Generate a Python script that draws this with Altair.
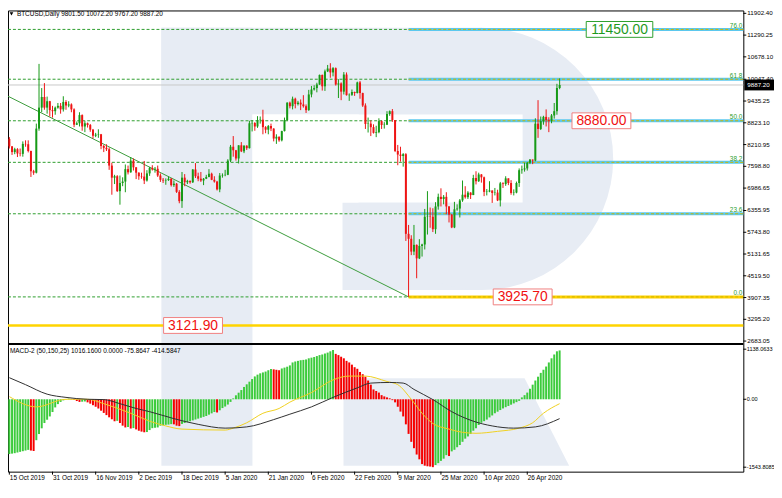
import numpy as np
import pandas as pd
import altair as alt

# ---------------- data ----------------
opens = [
    8370, 8160, 8000, 8080, 7960, 7950, 8230, 8220, 8030, 7460,
    7420, 8660, 9250, 9550, 9250, 9430, 9180, 9150, 9250, 9300,
    9200, 9410, 9310, 9340, 9200, 8770, 8810, 9040, 8720, 8810,
    8760, 8630, 8460, 8490, 8500, 8170, 8120, 8080, 7620, 7280,
    7320, 6900, 7130, 7170, 7520, 7430, 7760, 7570, 7420, 7320,
    7310, 7200, 7400, 7550, 7510, 7530, 7340, 7220, 7200, 7210,
    7250, 7070, 7110, 6880, 6620, 7280, 7150, 7190, 7150, 7510,
    7320, 7250, 7200, 7250, 7300, 7390, 7220, 7170, 6950, 7340,
    7350, 7360, 7760, 8150, 8050, 7820, 8190, 8020, 8180, 8110,
    8810, 8820, 8720, 8900, 8910, 8700, 8630, 8730, 8660, 8380,
    8430, 8330, 8590, 8900, 9390, 9290, 9500, 9350, 9390, 9340,
    9290, 9180, 9620, 9760, 9800, 9900, 10170, 9850, 10270, 10350,
    10240, 10360, 9900, 9930, 9700, 10180, 9600, 9610, 9690, 9660,
    9960, 9660, 9310, 8790, 8800, 8700, 8540, 8560, 8870, 8760,
    8770, 9070, 9150, 8900, 8030, 7930, 7890, 7940, 5700, 5560,
    5200, 5390, 5010, 5360, 5400, 6180, 6190, 6180, 5830, 6470,
    6740, 6680, 6740, 6470, 6240, 5880, 6390, 6410, 6640, 6800,
    6730, 6860, 6790, 7270, 7180, 7370, 7290, 6880, 6890, 6920,
    6850, 6860, 6640, 7120, 7100, 7260, 7130, 6850, 6860, 7130,
    7490, 7510, 7540, 7700, 7790, 7760, 8800, 8650, 8870, 8990,
    8900, 8880, 9030, 9150, 9801.5,
]
highs = [
    8420, 8170, 8120, 8110, 8100, 8300, 8330, 8330, 8040, 7500,
    8800, 10480, 9800, 9940, 9560, 9440, 9300, 9280, 9380, 9380,
    9570, 9460, 9430, 9370, 9230, 8860, 9120, 9060, 8870, 8830,
    8790, 8650, 8540, 8640, 8510, 8200, 8220, 8130, 7700, 7360,
    7350, 7340, 7290, 7650, 7620, 7860, 7820, 7580, 7430, 7420,
    7750, 7490, 7580, 7630, 7580, 7620, 7400, 7270, 7260, 7310,
    7270, 7200, 7130, 6930, 7440, 7380, 7220, 7200, 7520, 7690,
    7420, 7440, 7270, 7360, 7520, 7420, 7320, 7190, 7410, 7400,
    7500, 7800, 8200, 8450, 8060, 8190, 8280, 8190, 8190, 8880,
    8900, 8840, 9010, 9000, 9190, 8730, 8760, 8800, 8670, 8500,
    8440, 8600, 8970, 9400, 9420, 9560, 9530, 9440, 9480, 9600,
    9340, 9750, 9860, 9880, 9950, 10180, 10180, 10320, 10450, 10500,
    10390, 10380, 10050, 9960, 10250, 10240, 9650, 9760, 9700, 9980,
    10000, 9670, 9370, 8970, 8890, 8780, 8740, 8950, 8890, 8840,
    9150, 9170, 9210, 8900, 8200, 8150, 7970, 7970, 5950, 5660,
    5950, 5400, 5550, 5420, 6400, 6900, 6440, 6420, 6590, 6830,
    6980, 6790, 6870, 6480, 6260, 6600, 6530, 6680, 7200, 7040,
    6900, 6870, 7360, 7460, 7420, 7380, 7310, 6960, 7180, 6920,
    6990, 6940, 7160, 7150, 7320, 7260, 7210, 6950, 7170, 7540,
    7620, 7700, 7720, 7800, 7790, 8950, 9460, 9000, 9020, 9200,
    8980, 9070, 9380, 9920, 10072.2,
]
lows = [
    8100, 7920, 7940, 7860, 7880, 7870, 8150, 7990, 7300, 7360,
    7400, 8600, 9120, 9190, 9080, 9000, 8970, 9050, 9220, 9080,
    9140, 9190, 9260, 9120, 8700, 8760, 8720, 8600, 8560, 8690,
    8570, 8380, 8420, 8400, 8080, 8000, 8030, 7500, 6800, 7100,
    6880, 6520, 7040, 6870, 7370, 7420, 7480, 7240, 7220, 7250,
    7100, 7170, 7330, 7480, 7420, 7300, 7160, 7130, 7080, 7190,
    7030, 7020, 6850, 6560, 6430, 7040, 7100, 7110, 7130, 7270,
    7180, 7160, 7070, 7240, 7290, 7210, 7140, 6920, 6870, 7280,
    7320, 7350, 7720, 7870, 7760, 7680, 8000, 7970, 8060, 8100,
    8580, 8600, 8680, 8800, 8500, 8530, 8500, 8590, 8300, 8230,
    8290, 8300, 8580, 8880, 9230, 9200, 9230, 9310, 9180, 9250,
    9100, 9160, 9540, 9730, 9680, 9890, 9730, 9720, 10250, 10090,
    10130, 9870, 9520, 9460, 9620, 9590, 9440, 9580, 9580, 9650,
    9500, 9270, 8650, 8550, 8450, 8520, 8420, 8530, 8650, 8660,
    8760, 9020, 8850, 8000, 7630, 7730, 7590, 5500, 3925.7, 5100,
    5100, 4450, 4990, 5060, 5260, 5680, 5870, 5750, 5700, 6380,
    6470, 6530, 6250, 6020, 5860, 5860, 6350, 6160, 6600, 6690,
    6680, 6680, 6790, 7090, 7160, 7140, 6760, 6780, 6870, 6570,
    6780, 6620, 6470, 6990, 7050, 7070, 6800, 6780, 6840, 7020,
    7390, 7450, 7480, 7660, 7660, 7740, 8400, 8620, 8770, 8720,
    8560, 8810, 8940, 9050, 9767.2,
]
closes = [
    8160, 8000, 8080, 7960, 7950, 8230, 8220, 8030, 7460, 7420,
    8660, 9250, 9550, 9250, 9430, 9180, 9150, 9250, 9300, 9200,
    9410, 9310, 9340, 9200, 8770, 8810, 9040, 8720, 8810, 8760,
    8630, 8460, 8490, 8500, 8170, 8120, 8080, 7620, 7280, 7320,
    6900, 7130, 7170, 7520, 7430, 7760, 7570, 7420, 7320, 7310,
    7200, 7400, 7550, 7510, 7530, 7340, 7220, 7200, 7210, 7250,
    7070, 7110, 6880, 6620, 7280, 7150, 7190, 7150, 7510, 7320,
    7250, 7200, 7250, 7300, 7390, 7220, 7170, 6950, 7340, 7350,
    7360, 7760, 8150, 8050, 7820, 8190, 8020, 8180, 8110, 8810,
    8820, 8720, 8900, 8910, 8700, 8630, 8730, 8660, 8380, 8430,
    8330, 8590, 8900, 9390, 9290, 9500, 9350, 9390, 9340, 9290,
    9180, 9620, 9760, 9800, 9900, 10170, 9850, 10270, 10350, 10240,
    10360, 9900, 9930, 9700, 10180, 9600, 9610, 9690, 9660, 9960,
    9660, 9310, 8790, 8800, 8700, 8540, 8560, 8870, 8760, 8770,
    9070, 9150, 8900, 8030, 7930, 7890, 7940, 5700, 5560, 5200,
    5390, 5010, 5360, 5400, 6180, 6190, 6180, 5830, 6470, 6740,
    6680, 6740, 6470, 6240, 5880, 6390, 6410, 6640, 6800, 6730,
    6860, 6790, 7270, 7180, 7370, 7290, 6880, 6890, 6920, 6850,
    6860, 6640, 7120, 7100, 7260, 7130, 6850, 6860, 7130, 7490,
    7510, 7540, 7700, 7790, 7760, 8800, 8650, 8870, 8990, 8900,
    8880, 9030, 9150, 9801.5, 9887.2,
]
macd_hist = [
    -1245, -1235, -1225, -1210, -1195, -1180, -1165, -1150, -1165, -1175,
    -930, -790, -660, -540, -465, -390, -290, -185, -110, -60,
    -25, 5, 15, 8, -15, -40, -60, -55, -50, -70,
    -100, -135, -170, -210, -260, -310, -360, -410, -455, -500,
    -490, -540, -600, -640, -630, -665, -655, -685, -715, -735,
    -750, -745, -700, -657, -650, -640, -600, -590, -580, -575,
    -565, -570, -600, -610, -560, -540, -520, -500, -480, -460,
    -440, -420, -400, -380, -350, -320, -290, -300, -250, -200,
    -165, -120, -60, 20, 90, 150, 210, 280, 340, 400,
    460, 520, 560, 590, 610, 630, 660, 690, 680, 670,
    660, 700, 720, 740, 770, 837, 859, 873, 888, 895,
    905, 931, 946, 960, 982, 1004, 1018, 1040, 1061, 1090,
    1120, 1032, 1004, 967, 931, 873, 837, 787, 729, 693,
    621, 570, 513, 426, 332, 224, 188, 152, 94, 65,
    43, 22, -20, -70, -170, -280, -390, -570, -787, -967,
    -1112, -1256, -1365, -1473, -1509, -1523, -1530, -1543, -1494, -1451,
    -1400, -1350, -1270, -1290, -1184, -1148, -1090, -1040, -967, -895,
    -845, -787, -715, -657, -585, -534, -498, -462, -412, -368,
    -318, -282, -245, -209, -180, -152, -123, -94, -65, -36,
    43, 94, 152, 238, 332, 426, 513, 600, 671, 744,
    837, 931, 1018, 1090, 1110,
]
yellow_idx = [0, 10, 21, 29, 35, 45, 52, 58, 64, 80, 83, 88, 94, 100, 104,
              112, 120, 126, 132, 140, 144, 149, 153, 157, 163, 168, 173,
              181, 189, 194, 198, 204]
yellow_val = [60, -173, 0, 0, -100, -318, -498, -606, -678, -700, -656, -534,
              -318, -209, -65, 152, 440, 527, 527, 404, 332, 0, -318, -550,
              -678, -751, -773, -729, -656, -534, -318, -100]
black_idx = [0, 6, 14, 21, 29, 35, 41, 47, 52, 61, 70, 80, 88, 98, 104, 112,
             120, 129, 134, 141, 146, 150, 157, 164, 172, 179, 187, 195, 204]
black_val = [490, 332, 116, 43, 0, -7, -100, -209, -282, -440, -570, -656,
             -628, -462, -339, -173, 43, 260, 368, 382, 368, 224, -7, -282,
             -498, -606, -656, -628, -440]

fib_pct = ["0.0", "23.6", "38.2", "50.0", "61.8", "76.0"]
fib_price = [3925.70, 6264.0, 7711.0, 8880.0, 10049.0, 11450.0]
fib_start = 148
support_price = 3121.90
last_price = 9887.20
trend_idx = [-1, 148]
trend_price = [9590, 3925.70]

price_ticks = [11902.40, 11290.25, 10678.10, 10047.40, 9435.25, 8823.10,
               8210.95, 7598.80, 6986.65, 6355.95, 5743.80, 5131.65, 4519.50,
               3907.35, 3295.20, 2683.05]
macd_ticks = [1138.0633, 0.0, -1543.8085]
macd_tick_labels = ["1138.0633", "0.00", "-1543.8085"]
date_tick_idx = [0, 16, 32, 48, 64, 80, 96, 112, 128, 144, 160, 176, 192]
date_tick_labels = ["15 Oct 2019", "31 Oct 2019", "16 Nov 2019", "2 Dec 2019",
                    "18 Dec 2019", "5 Jan 2020", "21 Jan 2020", "6 Feb 2020",
                    "22 Feb 2020", "9 Mar 2020", "25 Mar 2020", "10 Apr 2020",
                    "26 Apr 2020"]

tag_text = ["11450.00", "8880.00", "3925.70", "3121.90"]
tag_price = [11450.0, 8880.0, 3925.70, 3121.90]
tag_center = [226.2, 219.5, 190.3, 68.1]
tag_kind = ["g", "r", "r", "r"]

title_text = "BTCUSD,Daily  9801.50 10072.20 9767.20 9887.20"
macd_title = "MACD-2 (50,150,25) 1016.1600 0.0000 -75.8647 -414.5847"

# ---------------- layout / style ----------------
W, H = 743, 466
P_TOP, P_BOT = 0, 336
M_TOP, M_BOT = 338, 466
FONT = "Liberation Sans"
SMALL = 6.5
WM = "#E7ECF4"
PX_PER_PRICE = (11983 - 2629) / (P_BOT - P_TOP)
PX_PER_BAR = W / (272.1 + 0.5)

xs = alt.Scale(domain=[-0.5, 272.1], nice=False, zero=False)
ps = alt.Scale(domain=[2629, 11983], range=[P_BOT, P_TOP], nice=False, zero=False)
ms = alt.Scale(domain=[-1645, 1234], range=[M_BOT, M_TOP], nice=False, zero=False)

one = pd.DataFrame({"k": [0]})


def X(field):
    return alt.X(field, scale=xs, axis=None)


def YP(field):
    return alt.Y(field, scale=ps, axis=None)


def YM(field):
    return alt.Y(field, scale=ms, axis=None)


# ---------------- watermark ----------------
def wm_rect(x0, x1, y0, y1, color=WM):
    return alt.Chart(one).mark_rect(color=color, strokeWidth=0).encode(
        x=alt.value(x0), x2=alt.value(x1), y=alt.value(y0), y2=alt.value(y1))


wm_layers = [
    wm_rect(155, 247, 17.5, 460),
    wm_rect(155, 479, 17.5, 105),
    wm_rect(338, 479, 194, 282.5),
    alt.Chart(one).mark_point(shape="circle", filled=True, size=265 ** 2,
                              opacity=1, color=WM, strokeWidth=0).encode(
        x=alt.value(479), y=alt.value(150)),
    wm_rect(247, 520, 105, 194, color="#FFFFFF"),
    alt.Chart(one).mark_point(shape="M-1,-0.387L0.605,-0.387L1,0.387L-1,0.387Z",
                              filled=True, size=228 ** 2, opacity=1, color=WM,
                              strokeWidth=0).encode(
        x=alt.value(453), y=alt.value(415.85)),
]

# ---------------- price panel ----------------
fdf = pd.DataFrame({"pct": fib_pct, "price": fib_price})
fdf["start"] = fib_start
fdf["seg"] = ["#FFD000"] + ["#5BC8EE"] * (len(fib_pct) - 1)

fib_dash = alt.Chart(fdf).mark_rule(color="#2E9E2E", strokeWidth=1, strokeDash=[3, 2]).encode(
    y=YP("price:Q"), x=alt.value(0), x2=alt.value(W))
fib_seg = alt.Chart(fdf).mark_rule(strokeWidth=3).encode(
    x=X("start:Q"), x2=alt.value(W), y=YP("price:Q"), color=alt.Color("seg:N", scale=None))
fib_seg_dash = alt.Chart(fdf).mark_rule(strokeWidth=1, strokeDash=[3, 2], color="#C9B800").encode(
    x=X("start:Q"), x2=alt.value(W), y=YP("price:Q"))
fib_lbl = alt.Chart(fdf).mark_text(align="right", baseline="bottom", dy=-0.5,
                                   font=FONT, fontSize=SMALL, color="#2E9E2E").encode(
    x=alt.value(W - 1), y=YP("price:Q"), text="pct:N")

sup = alt.Chart(pd.DataFrame({"p": [support_price]})).mark_rule(color="#FFD400", strokeWidth=2.5).encode(
    y=YP("p:Q"), x=alt.value(0), x2=alt.value(W))
lastl = alt.Chart(pd.DataFrame({"p": [last_price]})).mark_rule(color="#C8C8C8", strokeWidth=1).encode(
    y=YP("p:Q"), x=alt.value(0), x2=alt.value(W))

trend = alt.Chart(pd.DataFrame({"i": trend_idx, "p": trend_price})).mark_line(
    color="#3C9C3C", strokeWidth=1, clip=True).encode(x=X("i:Q"), y=YP("p:Q"))

N = len(closes)
cdf = pd.DataFrame({"i": range(N), "o": opens, "h": highs, "l": lows, "c": closes})
cdf["col"] = np.where(cdf["c"] >= cdf["o"], "#169A16", "#EE1414")

wicks = alt.Chart(cdf).mark_rule(strokeWidth=1).encode(
    x=X("i:Q"), y=YP("l:Q"), y2="h:Q", color=alt.Color("col:N", scale=None))
bodies = alt.Chart(cdf).mark_rule(strokeWidth=2).encode(
    x=X("i:Q"), y=YP("o:Q"), y2="c:Q", color=alt.Color("col:N", scale=None))

tdf = pd.DataFrame({"t": tag_text, "p": tag_price, "ci": tag_center, "k": tag_kind})
half_px = tdf["t"].str.len() * 0.556 * 14 / 2 + 2.5
tdf["x0"] = tdf["ci"] - half_px / PX_PER_BAR
tdf["x1"] = tdf["ci"] + half_px / PX_PER_BAR
tdf["y0"] = tdf["p"] - 8 * PX_PER_PRICE
tdf["y1"] = tdf["p"] + 8 * PX_PER_PRICE
tdf["stroke"] = np.where(tdf["k"] == "g", "#2EA02E", "#F08080")
tdf["fg"] = np.where(tdf["k"] == "g", "#1E9A1E", "#F01010")
tag_box = alt.Chart(tdf).mark_rect(fill="#FFFFFF", strokeWidth=1).encode(
    x=X("x0:Q"), x2="x1:Q", y=YP("y0:Q"), y2="y1:Q",
    stroke=alt.Stroke("stroke:N", scale=None))
tag_txt = alt.Chart(tdf).mark_text(font=FONT, fontSize=14, align="center", baseline="middle", dy=0.5).encode(
    x=X("ci:Q"), y=YP("p:Q"), text="t:N", color=alt.Color("fg:N", scale=None))

tri = alt.Chart(one).mark_point(shape="triangle-down", filled=True, size=14, opacity=1,
                                color="#000000", strokeWidth=0).encode(
    x=alt.value(3.5), y=alt.value(3.5))
ttl = alt.Chart(one).mark_text(align="left", baseline="middle", font=FONT, fontSize=SMALL,
                               color="#000000").encode(
    x=alt.value(9), y=alt.value(3.8), text=alt.value(title_text))
sep = alt.Chart(one).mark_rule(color="#000000", strokeWidth=2).encode(
    x=alt.value(0), x2=alt.value(W), y=alt.value(337))

# right price scale labels (drawn as text through the price scale)
pt = pd.DataFrame({"v": price_ticks})
pt["t"] = pt["v"].map(lambda v: "%.2f" % v)
ptick = alt.Chart(pt).mark_rule(color="#000000", strokeWidth=1).encode(
    x=alt.value(W), x2=alt.value(W + 3), y=YP("v:Q"))
ptext = alt.Chart(pt).mark_text(align="left", baseline="middle", font=FONT, fontSize=6.3,
                                color="#000000").encode(
    x=alt.value(W + 4), y=YP("v:Q"), text="t:N")

cur = pd.DataFrame({"p": [last_price], "t": ["%.2f" % last_price]})
cur["y0"] = cur["p"] - 5.5 * PX_PER_PRICE
cur["y1"] = cur["p"] + 5.5 * PX_PER_PRICE
cur_box = alt.Chart(cur).mark_rect(color="#000000").encode(
    x=alt.value(W + 1), x2=alt.value(W + 31), y=YP("y0:Q"), y2="y1:Q")
cur_txt = alt.Chart(cur).mark_text(align="left", baseline="middle", font=FONT, fontSize=6.3,
                                   color="#FFFFFF").encode(
    x=alt.value(W + 4), y=YP("p:Q"), text="t:N")

price_layer = alt.layer(*wm_layers, fib_dash, fib_seg, fib_seg_dash, sup, lastl, trend,
                        wicks, bodies, fib_lbl, tag_box, tag_txt, tri, ttl, sep,
                        ptick, ptext, cur_box, cur_txt)

# ---------------- MACD panel ----------------
mdf = pd.DataFrame({"i": range(len(macd_hist)), "v": macd_hist})
mdf["zero"] = 0.0
mdf["col"] = np.where(mdf["v"].diff().fillna(1) >= 0, "#3CCB3C", "#F50000")

hist = alt.Chart(mdf).mark_rule(strokeWidth=2).encode(
    x=X("i:Q"), y=YM("v:Q"), y2="zero:Q", color=alt.Color("col:N", scale=None))
yline = alt.Chart(pd.DataFrame({"i": yellow_idx, "v": yellow_val})).mark_line(
    color="#F0D020", strokeWidth=1, interpolate="monotone").encode(x=X("i:Q"), y=YM("v:Q"))
bline = alt.Chart(pd.DataFrame({"i": black_idx, "v": black_val})).mark_line(
    color="#303030", strokeWidth=1, interpolate="monotone").encode(x=X("i:Q"), y=YM("v:Q"))
mt = pd.DataFrame({"v": macd_ticks, "t": macd_tick_labels})
mtick = alt.Chart(mt).mark_rule(color="#000000", strokeWidth=1).encode(
    x=alt.value(W), x2=alt.value(W + 3), y=YM("v:Q"))
mtext = alt.Chart(mt).mark_text(align="left", baseline="middle", font=FONT, fontSize=5.6,
                                color="#000000").encode(
    x=alt.value(W + 3.5), y=YM("v:Q"), text="t:N")
mttl = alt.Chart(one).mark_text(align="left", baseline="middle", font=FONT, fontSize=SMALL,
                                color="#000000").encode(
    x=alt.value(2), y=alt.value(344), text=alt.value(macd_title))

# date scale labels (drawn as text through the index scale)
dt = pd.DataFrame({"i": date_tick_idx, "t": date_tick_labels})
dtick = alt.Chart(dt).mark_rule(color="#000000", strokeWidth=1).encode(
    x=X("i:Q"), y=alt.value(H), y2=alt.value(H + 3))
dtext = alt.Chart(dt).mark_text(align="left", baseline="top", font=FONT, fontSize=SMALL,
                                color="#000000", dx=0.5).encode(
    x=X("i:Q"), y=alt.value(H + 3.5), text="t:N")

macd_layer = alt.layer(hist, yline, bline, mtick, mtext, mttl, dtick, dtext)

chart = alt.layer(price_layer, macd_layer).resolve_scale(y="independent").properties(
    width=W, height=H,
    autosize=alt.AutoSizeParams(type="none"),
    padding={"left": 0, "top": 0, "right": 31, "bottom": 12},
).configure_view(stroke="#000000", strokeWidth=1)

chart.save("out.html", embed_options={"renderer": "svg", "actions": False})
